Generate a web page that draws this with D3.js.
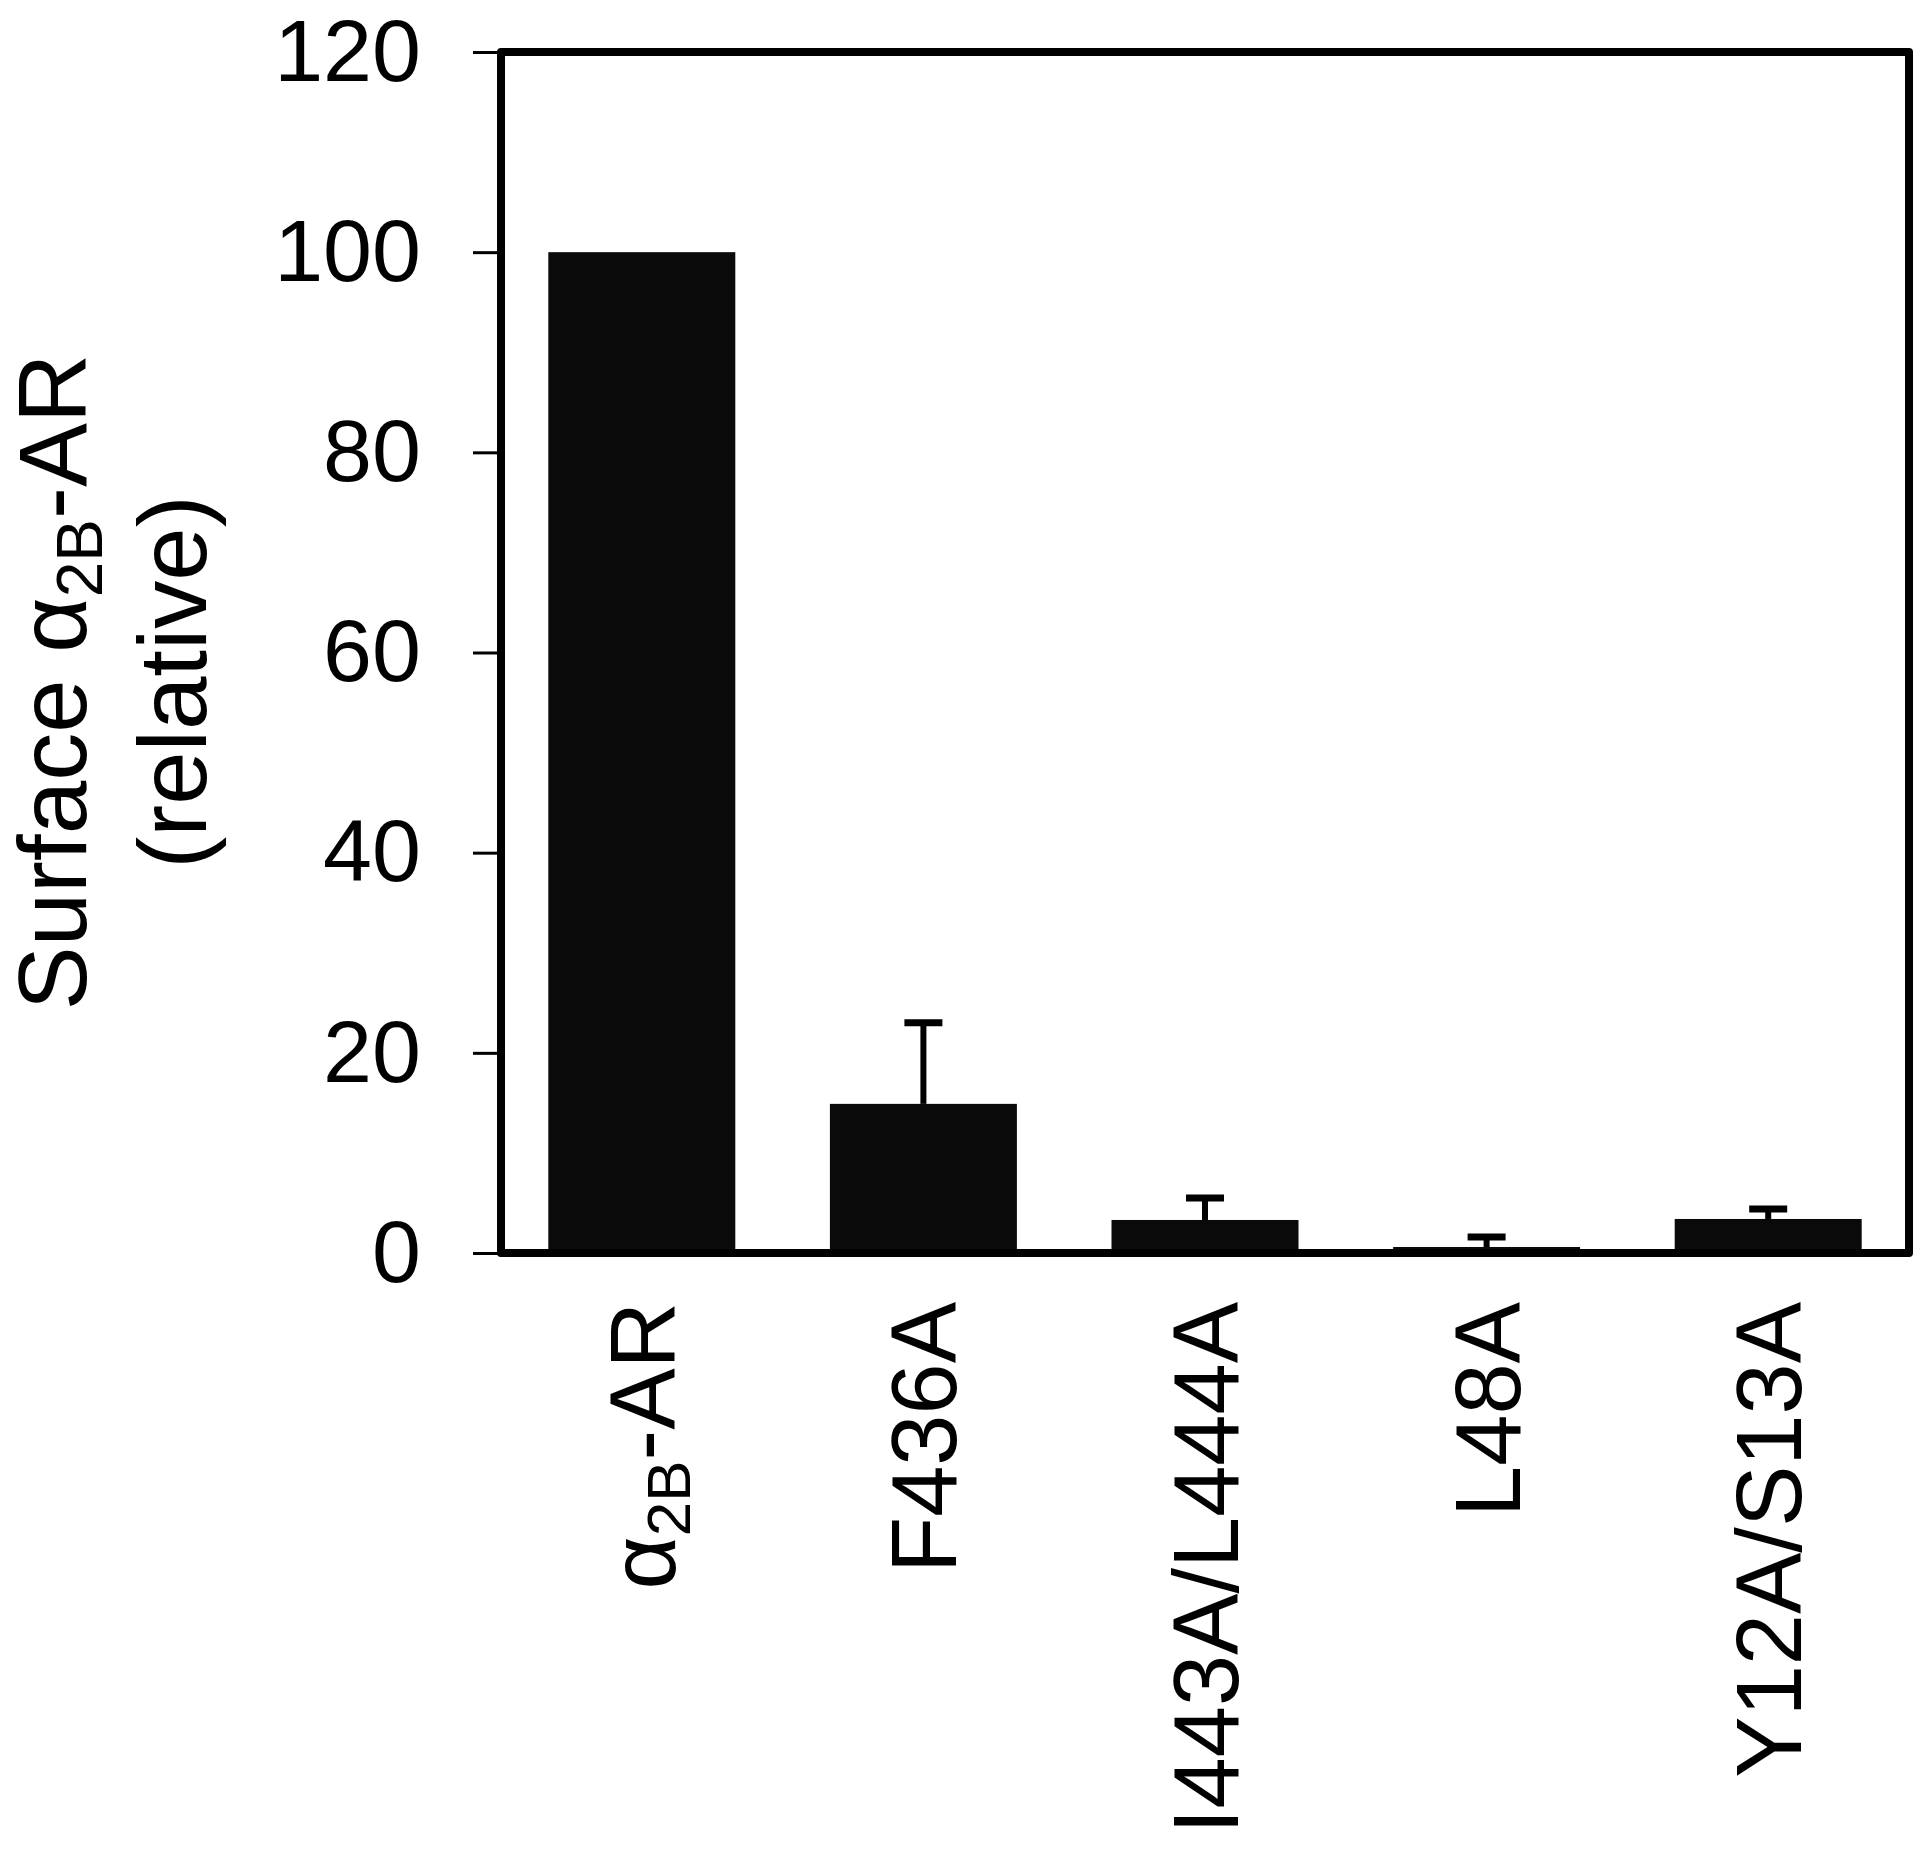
<!DOCTYPE html>
<html>
<head>
<meta charset="utf-8">
<script src="https://cdn.jsdelivr.net/npm/d3@7"></script>
<style>
  body { margin: 0; background: #fff; }
  text { font-family: "Liberation Sans", Arial, sans-serif; fill: #000; }
</style>
</head>
<body>
<svg id="chart"></svg>
<script>
// data
var categories = ["α2B-AR", "F436A", "I443A/L444A", "L48A", "Y12A/S13A"];
var values = [100, 14.9, 3.3, 0.6, 3.4];
var errors = [0, 8.1, 2.2, 1.0, 1.0];
var yTicks = [0, 20, 40, 60, 80, 100, 120];

var width = 1920, height = 1853;
var margin = {left: 501, right: 11, top: 52, bottom: 600};

var chart = d3.select("#chart")
    .attr("width", width)
    .attr("height", height);

var data = categories.map(function(c, i) {
    return {name: c, val: values[i], err: errors[i]};
});

var xs = d3.scaleBand()
    .domain(categories)
    .range([margin.left, width - margin.right])
    .paddingInner(0.336)
    .paddingOuter(0.168);

var ys = d3.scaleLinear()
    .domain([0, 120])
    .range([1253, margin.top]);

// bars
chart.append("g")
    .selectAll("rect")
    .data(data)
    .enter()
    .append("rect")
        .attr("x", d => xs(d.name))
        .attr("width", xs.bandwidth())
        .attr("y", d => ys(d.val))
        .attr("height", d => ys(0) - ys(d.val))
        .attr("fill", "#0a0a0a");

// error bars (upper only)
var eb = chart.append("g")
    .selectAll("g")
    .data(data.filter(d => d.err > 0))
    .enter()
    .append("g");

eb.append("line")
    .attr("x1", d => xs(d.name) + xs.bandwidth() / 2)
    .attr("x2", d => xs(d.name) + xs.bandwidth() / 2)
    .attr("y1", d => ys(d.val))
    .attr("y2", d => ys(d.val + d.err))
    .attr("stroke", "#000")
    .attr("stroke-width", 6);

eb.append("line")
    .attr("x1", d => xs(d.name) + xs.bandwidth() / 2 - 19)
    .attr("x2", d => xs(d.name) + xs.bandwidth() / 2 + 19)
    .attr("y1", d => ys(d.val + d.err))
    .attr("y2", d => ys(d.val + d.err))
    .attr("stroke", "#000")
    .attr("stroke-width", 7);

// y axis
var yAxis = chart.append("g")
    .attr("transform", "translate(" + margin.left + ",0)")
    .call(d3.axisLeft(ys).tickValues(yTicks).tickSize(28).tickPadding(52));

yAxis.select(".domain").remove();
yAxis.selectAll(".tick line").attr("stroke", "#000").attr("stroke-width", 3);
yAxis.selectAll(".tick text")
    .attr("font-family", "Liberation Sans, Arial, sans-serif")
    .attr("font-size", 88)
    .attr("fill", "#000");

// frame
chart.append("rect")
    .attr("x", margin.left)
    .attr("y", margin.top)
    .attr("width", width - margin.right - margin.left)
    .attr("height", ys(0) - margin.top)
    .attr("fill", "none")
    .attr("stroke", "#000")
    .attr("stroke-width", 8)
    .attr("stroke-linejoin", "round");

// category labels, rotated
function addLabel(sel, name) {
    var m = name.match(/^α(2B)(.*)$/);
    if (m) {
        sel.append("tspan").text("α");
        sel.append("tspan").attr("font-size", 62).attr("dy", 15).text(m[1]);
        sel.append("tspan").attr("dy", -15).text(m[2]);
    } else {
        sel.text(name);
    }
}

chart.append("g")
    .selectAll("text")
    .data(categories)
    .enter()
    .append("text")
        .attr("transform", d => "translate(" + (xs(d) + xs.bandwidth() / 2 + 33) + ",1302) rotate(-90)")
        .style("text-anchor", "end")
        .attr("font-size", 92)
        .each(function(d) { addLabel(d3.select(this), d); });

// y title
var title = chart.append("g")
    .attr("transform", "translate(0,682) rotate(-90)");

var t1 = title.append("text")
    .attr("y", 86)
    .style("text-anchor", "middle")
    .attr("font-size", 96);
t1.append("tspan").text("Surface α");
t1.append("tspan").attr("font-size", 64).attr("dy", 16).text("2B");
t1.append("tspan").attr("dy", -16).text("-AR");

title.append("text")
    .attr("y", 206)
    .style("text-anchor", "middle")
    .attr("font-size", 96)
    .text("(relative)");
</script>
</body>
</html>
